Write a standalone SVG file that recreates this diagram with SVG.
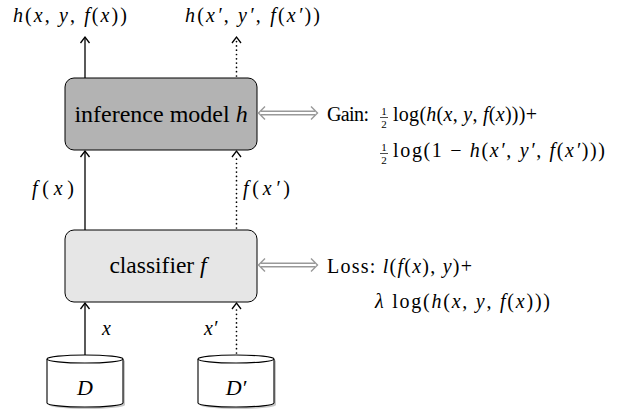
<svg xmlns="http://www.w3.org/2000/svg" width="620" height="415" viewBox="0 0 620 415">
<style>
text{font-family:"Liberation Serif","DejaVu Serif",serif;fill:#000}
.m{font-size:20px}
.i{font-style:italic}
.box{stroke:#000;stroke-width:1}
.ln{fill:none;stroke:#000;stroke-width:1.3}
.dot{fill:none;stroke:#000;stroke-width:1.7;stroke-linecap:round;stroke-dasharray:0 4.3}
.hd{fill:none;stroke:#000;stroke-width:1.3}
.ga{fill:none;stroke:#999;stroke-width:1.4}
.fr{font-size:11px}
.cyl{fill:#fff;stroke:#000;stroke-width:1.1}
.sh{fill:#c8c8c8;stroke:none}
</style>
<g id="top-labels">
<text class="m" x="13" y="22" textLength="114"><tspan class="i">h</tspan>(<tspan class="i">x</tspan>, <tspan class="i">y</tspan>, <tspan class="i">f</tspan>(<tspan class="i">x</tspan>))</text>
<text class="m" x="185" y="22" textLength="135"><tspan class="i">h</tspan>(<tspan class="i">x′</tspan>, <tspan class="i">y′</tspan>, <tspan class="i">f</tspan>(<tspan class="i">x′</tspan>))</text>
</g>
<g id="inference">
<rect class="box" x="65" y="78" width="192" height="72" rx="9" fill="#b3b3b3"/>
<text x="161" y="122" font-size="24" text-anchor="middle">inference model <tspan class="i">h</tspan></text>
</g>
<g id="classifier">
<rect class="box" x="65" y="230" width="192" height="72" rx="9" fill="#e6e6e6"/>
<text x="158" y="273" font-size="23.5" text-anchor="middle">classifier <tspan class="i">f</tspan></text>
</g>
<g id="D">
<path class="sh" d="M49,361 A38,4 0 0 1 125,361 L125,405 A38,4 0 0 1 49,405 Z"/>
<path class="cyl" d="M47,359 A38,4 0 0 1 123,359 L123,403 A38,4 0 0 1 47,403 Z"/>
<path class="cyl" d="M47,359 A38,4 0 0 0 123,359"/>
<text x="85" y="395" font-size="22" class="i" text-anchor="middle">D</text>
</g>
<g id="Dp">
<path class="sh" d="M200,361 A38,4 0 0 1 276,361 L276,405 A38,4 0 0 1 200,405 Z"/>
<path class="cyl" d="M198,359 A38,4 0 0 1 274,359 L274,403 A38,4 0 0 1 198,403 Z"/>
<path class="cyl" d="M198,359 A38,4 0 0 0 274,359"/>
<text x="236" y="395" font-size="22" class="i" text-anchor="middle">D′</text>
</g>
<g id="connectors">
<line class="ln" x1="85" y1="78" x2="85" y2="37.5"/>
<path class="hd" d="M80.5,43 L85,37 L89.5,43"/>
<line class="dot" x1="236.5" y1="76" x2="236.5" y2="40"/>
<path class="hd" d="M232,43 L236.5,37 L241,43"/>
<line class="ln" x1="85" y1="230" x2="85" y2="151"/>
<path class="hd" d="M80.5,157 L85,151 L89.5,157"/>
<line class="dot" x1="236.5" y1="228" x2="236.5" y2="155"/>
<path class="hd" d="M232,157 L236.5,151 L241,157"/>
<line class="ln" x1="85" y1="355" x2="85" y2="303"/>
<path class="hd" d="M80.5,309 L85,303 L89.5,309"/>
<line class="dot" x1="236.5" y1="353" x2="236.5" y2="307"/>
<path class="hd" d="M232,309 L236.5,303 L241,309"/>
<path class="ga" d="M261,111.3 H315 M261,114.7 H315 M265,106.5 L258.5,113 L265,119.5 M311,106.5 L317.5,113 L311,119.5"/>
<path class="ga" d="M261,263.3 H315 M261,266.7 H315 M265,258.5 L258.5,265 L265,271.5 M311,258.5 L317.5,265 L311,271.5"/>
</g>
<g id="edge-labels">
<text class="m" x="32" y="195" textLength="42"><tspan class="i">f</tspan>(<tspan class="i">x</tspan>)</text>
<text class="m" x="243" y="195" textLength="47"><tspan class="i">f</tspan>(<tspan class="i">x′</tspan>)</text>
<text class="m i" x="102" y="335">x</text>
<text class="m i" x="204" y="335">x′</text>
</g>
<g id="gain">
<text class="m" x="327" y="121" textLength="42">Gain:</text>
<text class="fr" x="384" y="114.5" text-anchor="middle">1</text>
<line x1="380" y1="117.5" x2="388" y2="117.5" stroke="#000" stroke-width="0.7"/>
<text class="fr" x="384" y="128" text-anchor="middle">2</text>
<text class="m" x="393" y="121" textLength="144">log(<tspan class="i">h</tspan>(<tspan class="i">x</tspan>, <tspan class="i">y</tspan>, <tspan class="i">f</tspan>(<tspan class="i">x</tspan>)))+</text>
<text class="fr" x="384" y="150.5" text-anchor="middle">1</text>
<line x1="380" y1="153.5" x2="388" y2="153.5" stroke="#000" stroke-width="0.7"/>
<text class="fr" x="384" y="164" text-anchor="middle">2</text>
<text class="m" x="393" y="157" textLength="212">log(1 − <tspan class="i">h</tspan>(<tspan class="i">x′</tspan>, <tspan class="i">y′</tspan>, <tspan class="i">f</tspan>(<tspan class="i">x′</tspan>)))</text>
</g>
<g id="loss">
<text class="m" x="327" y="273" textLength="145">Loss: <tspan class="i">l</tspan>(<tspan class="i">f</tspan>(<tspan class="i">x</tspan>), <tspan class="i">y</tspan>)+</text>
<text class="m" x="375" y="308" textLength="175"><tspan class="i">λ</tspan> log(<tspan class="i">h</tspan>(<tspan class="i">x</tspan>, <tspan class="i">y</tspan>, <tspan class="i">f</tspan>(<tspan class="i">x</tspan>)))</text>
</g>
</svg>
